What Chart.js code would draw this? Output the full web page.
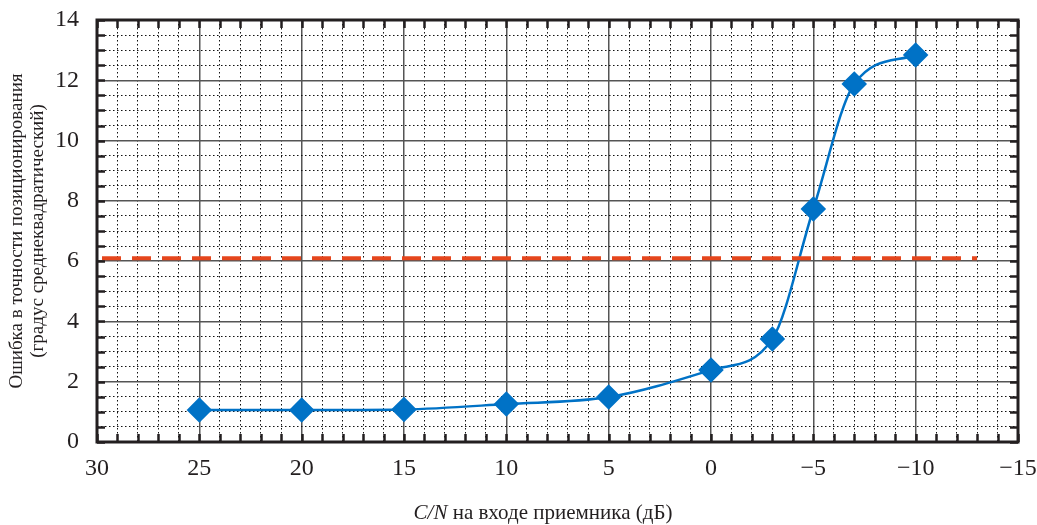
<!DOCTYPE html>
<html>
<head>
<meta charset="utf-8">
<script src="https://cdn.jsdelivr.net/npm/chart.js@4"></script>
<style>
  body { margin: 0; background: #fff; }
</style>
</head>
<body>
<canvas id="errChart" width="1037" height="525"></canvas>
<script>
// data
var cnValues = [25, 20, 15, 10, 5, 0, -3, -5, -7, -10];
var errValues = [1.06, 1.06, 1.08, 1.26, 1.49, 2.39, 3.42, 7.73, 11.88, 12.84];
var limitX = [30, -13];
var limitY = [6.1, 6.1];
var yTitle = ['Ошибка в точности позиционирования', '(градус среднеквадратический)'];

var FONT = '"Liberation Serif", "Times New Roman", serif';
var INK = '#231f20';

function minus(v) {
  return v < 0 ? '\u2212' + Math.abs(v) : String(v);
}

var points = cnValues.map(function (x, i) { return { x: x, y: errValues[i] }; });
var limitPts = limitX.map(function (x, i) { return { x: x, y: limitY[i] }; });

// frame, inward tick marks and x title
var framePlugin = {
  id: 'frame',
  afterDraw: function (chart) {
    var ctx = chart.ctx;
    var a = chart.chartArea;
    var xs = chart.scales.x, ys = chart.scales.y;
    ctx.save();
    ctx.strokeStyle = INK;
    ctx.lineWidth = 2.5;
    xs.ticks.forEach(function (t) {
      var px = Math.round(xs.getPixelForValue(t.value)) + 0.5;
      ctx.beginPath();
      ctx.moveTo(px, a.bottom); ctx.lineTo(px, a.bottom - 8);
      ctx.moveTo(px, a.top); ctx.lineTo(px, a.top + 8);
      ctx.stroke();
    });
    ys.ticks.forEach(function (t) {
      var py = Math.round(ys.getPixelForValue(t.value)) + 0.5;
      ctx.beginPath();
      ctx.moveTo(a.left, py); ctx.lineTo(a.left + 8, py);
      ctx.moveTo(a.right, py); ctx.lineTo(a.right - 8, py);
      ctx.stroke();
    });
    ctx.lineWidth = 3;
    ctx.strokeRect(a.left, a.top, a.right - a.left, a.bottom - a.top);

    // x axis title, C/N in italic
    var part1 = 'C/N';
    var part2 = ' на входе приемника (дБ)';
    ctx.fillStyle = INK;
    ctx.textBaseline = 'middle';
    ctx.font = 'italic 21px ' + FONT;
    var w1 = ctx.measureText(part1).width;
    ctx.font = '21px ' + FONT;
    var w2 = ctx.measureText(part2).width;
    var x0 = 543 - (w1 + w2) / 2;
    ctx.font = 'italic 21px ' + FONT;
    ctx.fillText(part1, x0, 513);
    ctx.font = '21px ' + FONT;
    ctx.fillText(part2, x0 + w1, 513);
    ctx.restore();
  }
};

new Chart(document.getElementById('errChart'), {
  type: 'line',
  data: {
    datasets: [
      {
        label: 'Порог',
        data: limitPts,
        borderColor: '#e5461c',
        borderWidth: 4,
        borderDash: [19, 11],
        borderDashOffset: -5,
        pointRadius: 0,
        fill: false,
        order: 0
      },
      {
        label: 'Ошибка',
        data: points,
        borderColor: '#0072c6',
        backgroundColor: '#0072c6',
        borderWidth: 2.5,
        cubicInterpolationMode: 'monotone',
        pointStyle: 'rectRot',
        pointRadius: 11,
        pointHoverRadius: 11,
        fill: false,
        order: 1
      }
    ]
  },
  options: {
    responsive: false,
    animation: false,
    layout: { padding: { top: 20, right: 19, left: 0, bottom: 0 } },
    plugins: {
      legend: { display: false },
      tooltip: { enabled: false }
    },
    scales: {
      x: {
        type: 'linear',
        reverse: true,
        min: -15,
        max: 30,
        afterFit: function (s) { s.height = 83; s.paddingLeft = 0; s.paddingRight = 0; },
        border: {
          display: false,
          dash: function (c) { return c.tick && c.tick.value % 5 === 0 ? [] : [1.5, 2.5]; }
        },
        grid: {
          drawTicks: false,
          color: function (c) { return c.tick && c.tick.value % 5 === 0 ? '#555' : '#111'; },
          lineWidth: function (c) { return c.tick && c.tick.value % 5 === 0 ? 1.5 : 1; }
        },
        ticks: {
          stepSize: 1,
          autoSkip: false,
          maxRotation: 0,
          padding: 12,
          color: INK,
          font: { family: FONT, size: 24 },
          callback: function (v) { return v % 5 === 0 ? minus(v) : ''; }
        }
      },
      y: {
        min: 0,
        max: 14,
        afterFit: function (s) { s.width = 97; s.paddingTop = 0; s.paddingBottom = 0; },
        border: {
          display: false,
          dash: function (c) { return c.tick && c.tick.value % 2 === 0 ? [] : [1.5, 2.5]; }
        },
        grid: {
          drawTicks: false,
          color: function (c) { return c.tick && c.tick.value % 2 === 0 ? '#555' : '#111'; },
          lineWidth: function (c) { return c.tick && c.tick.value % 2 === 0 ? 1.5 : 1; }
        },
        ticks: {
          stepSize: 0.5,
          autoSkip: false,
          padding: 18,
          color: INK,
          font: { family: FONT, size: 24 },
          callback: function (v) { return v % 2 === 0 ? String(v) : ''; }
        },
        title: {
          display: true,
          text: yTitle,
          color: INK,
          font: { family: FONT, size: 19, lineHeight: 1.1 },
          padding: { top: 7, bottom: 0 }
        }
      }
    }
  },
  plugins: [framePlugin]
});
</script>
</body>
</html>
